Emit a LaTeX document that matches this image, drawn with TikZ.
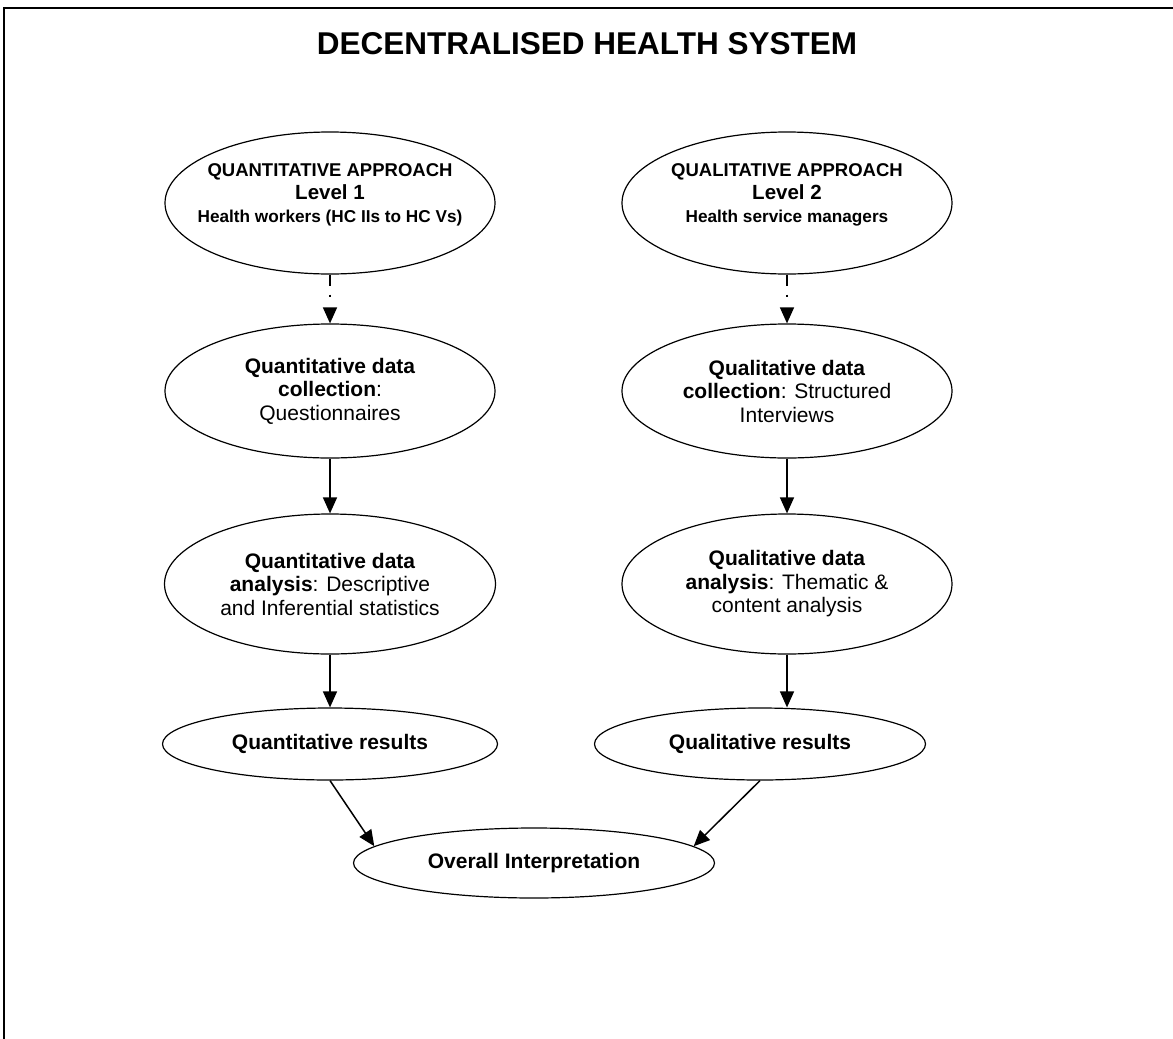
\documentclass[tikz,border=0pt]{standalone}
\usepackage{fontspec}
\setmainfont{Liberation Sans}
\usetikzlibrary{shapes.geometric,arrows.meta,calc}
\begin{document}
\begin{tikzpicture}[x=1pt,y=-1pt,
  ell/.style={draw, ellipse, line width=1.2pt, inner sep=0pt, align=center,
    font=\fontsize{21}{23.5}\selectfont},
  toptext/.style={align=center, inner sep=0pt, font=\fontsize{18.5}{23}\selectfont\bfseries},
  arr/.style={line width=1.5pt, -{Triangle[length=16pt,width=14pt]}},
  dotarr/.style={arr, dash pattern=on 11pt off 9pt on 2.5pt off 40pt}]
\useasboundingbox (0,0) rectangle (1173,1039);
\draw[line width=1.6pt] (1173,8) -- (4,8) -- (4,1039);

\node[font=\fontsize{31.5}{36}\selectfont\bfseries] (title) at (587,44) {DECENTRALISED HEALTH SYSTEM};

% top ellipses
\node[ell, minimum width=330pt, minimum height=142pt] (qa) at (330,203) {};
\node[toptext] (qatext) at (330,195) {QUANTITATIVE APPROACH\\
  {\fontsize{20.5}{23}\selectfont Level 1}\\
  {\fontsize{17.2}{23}\selectfont Health workers (HC IIs to HC Vs)}};
\node[ell, minimum width=330pt, minimum height=142pt] (qb) at (787,203) {};
\node[toptext] (qbtext) at (787,195) {QUALITATIVE APPROACH\\
  {\fontsize{20.5}{23}\selectfont Level 2}\\
  {\fontsize{17.2}{23}\selectfont Health service managers}};

% data collection
\node[ell, minimum width=330pt, minimum height=134pt] (qc) at (330,391)
  {\textbf{Quantitative data}\\\textbf{collection}:\\Questionnaires};
\node[ell, minimum width=330pt, minimum height=134pt] (qd) at (787,391)
  {\textbf{Qualitative data}\\\textbf{collection}: Structured\\Interviews};

% data analysis
\node[ell, minimum width=331pt, minimum height=140pt] (qe) at (330,584)
  {\textbf{Quantitative data}\\\textbf{analysis}: Descriptive\\and Inferential statistics};
\node[ell, minimum width=330pt, minimum height=140pt] (qf) at (787,584)
  {\textbf{Qualitative data}\\\textbf{analysis}: Thematic \&\\content analysis};

% results
\node[ell, minimum width=335pt, minimum height=72pt, font=\fontsize{21}{23.5}\selectfont\bfseries] (qg) at (330,744) {Quantitative results};
\node[ell, minimum width=331pt, minimum height=72pt, font=\fontsize{21}{23.5}\selectfont\bfseries] (qh) at (760,744) {Qualitative results};

% overall
\node[ell, minimum width=361pt, minimum height=70pt, font=\fontsize{21}{23.5}\selectfont\bfseries] (qo) at (534,863) {Overall Interpretation};

% connectors
\draw[dotarr] (qa.south) -- (qc.north);
\draw[dotarr] (qb.south) -- (qd.north);
\draw[arr] (qc.south) -- (qe.north);
\draw[arr] (qd.south) -- (qf.north);
\draw[arr] (qe.south) -- (qg.north);
\draw[arr] (qf.south) -- (qf.south |- qh.north);
\draw[arr] (qg.south) -- (qo.174);
\draw[arr] (qh.south) -- (qo.6);
\end{tikzpicture}
\end{document}
